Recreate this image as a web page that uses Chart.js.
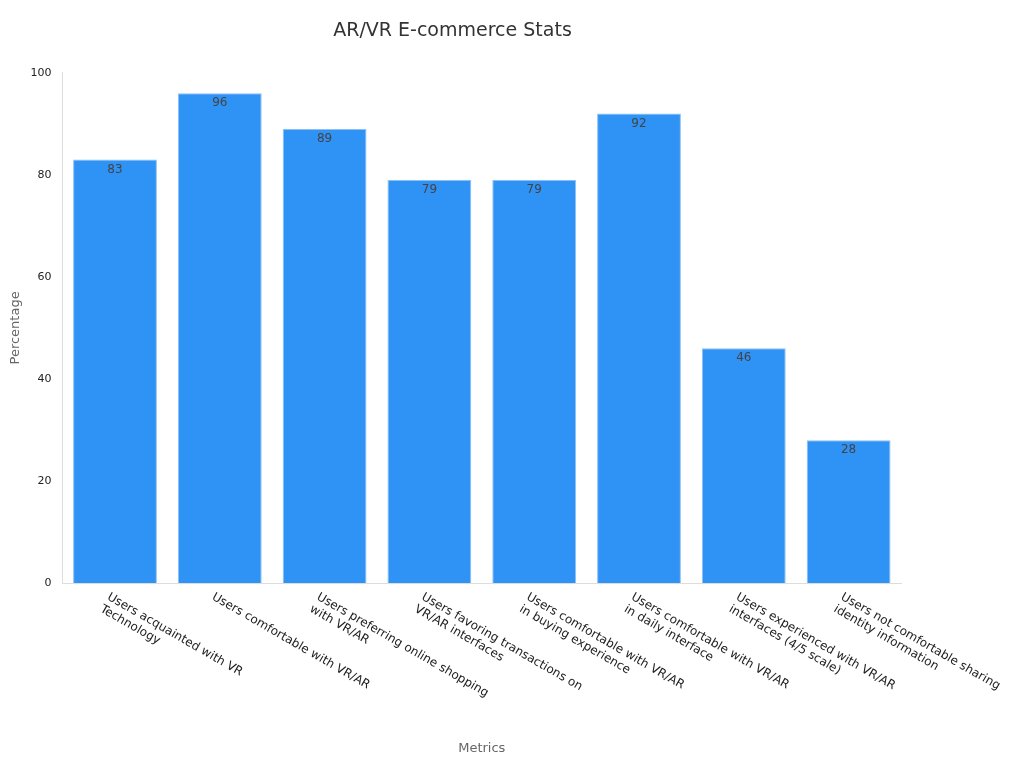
<!DOCTYPE html>
<html><head><meta charset="utf-8">
<script src="https://cdn.jsdelivr.net/npm/chart.js@4"></script>
<style>html,body{margin:0;padding:0;background:#fff}#w{width:1024px;height:768px}</style>
</head><body><div id="w"><canvas id="c"></canvas></div>
<script>
const categories = [
 ["Users acquainted with VR","Technology"],
 ["Users comfortable with VR/AR"],
 ["Users preferring online shopping","with VR/AR"],
 ["Users favoring transactions on","VR/AR interfaces"],
 ["Users comfortable with VR/AR","in buying experience"],
 ["Users comfortable with VR/AR","in daily interface"],
 ["Users experienced with VR/AR","interfaces (4/5 scale)"],
 ["Users not comfortable sharing","identity information"]
];
const values = [83,96,89,79,79,92,46,28];
const yTicks = [0,20,40,60,80,100];
const F = "'DejaVu Sans', sans-serif";
const custom = {
 id:'custom',
 afterDraw(chart){
  const ctx=chart.ctx, xs=chart.scales.x, ys=chart.scales.y;
  ctx.save();
  ctx.font='12px '+F; ctx.fillStyle='#222'; ctx.textAlign='left'; ctx.textBaseline='top';
  categories.forEach((lines,i)=>{
    const x=xs.getPixelForValue(i), y=ys.bottom+8;
    ctx.save(); ctx.translate(x-4,y); ctx.rotate(Math.PI/6);
    lines.forEach((l,j)=>ctx.fillText(l,0,j*14));
    ctx.restore();
  });
  const meta=chart.getDatasetMeta(0);
  ctx.font='12px '+F; ctx.fillStyle='#444'; ctx.textAlign='center'; ctx.textBaseline='top';
  meta.data.forEach((b,i)=>ctx.fillText(values[i],b.x,b.y+4));
  ctx.restore();
 }
};
new Chart(document.getElementById('c'),{
 type:'bar',
 data:{labels:categories.map(c=>c.join(' ')),datasets:[{data:values,backgroundColor:'#2f92f5',borderColor:'#8cc0f5',borderWidth:1,barPercentage:1,categoryPercentage:0.8}]},
 options:{responsive:true,maintainAspectRatio:false,animation:false,
  layout:{padding:{left:4,right:123,top:10,bottom:8}},
  plugins:{legend:{display:false},tooltip:{enabled:false},
   title:{display:true,text:'AR/VR E-commerce Stats',color:'#333',font:{family:F,size:19,weight:'normal'},padding:{top:10,bottom:30}}},
  scales:{
   x:{grid:{display:false,drawTicks:true},border:{color:'#ddd'},ticks:{callback:()=>'',padding:0},
      title:{display:true,text:'Metrics',color:'#666',font:{family:F,size:13},padding:{top:135}}},
   y:{min:0,max:100,afterBuildTicks:a=>{a.ticks=yTicks.map(v=>({value:v}));},
      grid:{display:false},border:{color:'#ddd'},
      ticks:{color:'#222',font:{family:F,size:11}},
      title:{display:true,text:'Percentage',color:'#666',font:{family:F,size:13}}}
  }},
 plugins:[custom]
});
</script></body></html>
